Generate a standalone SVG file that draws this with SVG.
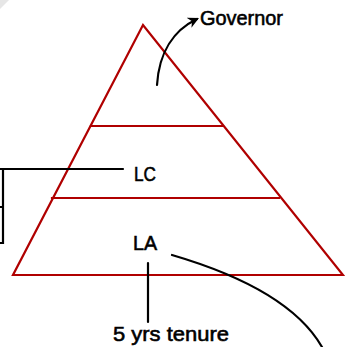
<svg xmlns="http://www.w3.org/2000/svg" width="345" height="347" viewBox="0 0 345 347">
  <defs>
    <style>
      .tier { fill: none; stroke: #b00000; stroke-width: 2.2; stroke-linejoin: miter; stroke-linecap: square; }
      .conn { fill: none; stroke: #000; stroke-width: 2.2; stroke-linecap: round; }
      .lbl { font-family: "Liberation Sans", "DejaVu Sans", sans-serif; font-size: 21px; fill: #000; stroke: #000; stroke-width: 0.6; }
    </style>
    <marker id="arrow" viewBox="0 0 10 10" refX="8" refY="5" markerWidth="5" markerHeight="5" orient="auto" markerUnits="strokeWidth">
      <path d="M0,0 L10,5 L0,10 L3,5 Z" fill="#000"/>
    </marker>
  </defs>
  <rect x="0" y="0" width="345" height="347" fill="#fff"/>
  <polygon points="0,0 9,0 0,9" fill="#e6e6e6"/>

  <g id="pyramid">
    <polygon class="tier" points="143,25 13,275 343,275"/>
    <line class="tier" x1="91" y1="126" x2="223" y2="126"/>
    <line class="tier" x1="52" y1="198" x2="279" y2="198"/>
  </g>

  <g id="connectors">
    <path class="conn" d="M157,85 C159,52 174,30 197,19" marker-end="url(#arrow)"/>
    <line class="conn" x1="0" y1="169" x2="123" y2="169" stroke-linecap="butt"/>
    <path class="conn" d="M0,169 H3 V243 H0 M0,207 H3" stroke-linecap="butt" stroke-linejoin="miter"/>
    <line class="conn" x1="148" y1="263" x2="148" y2="322"/>
    <path class="conn" d="M172,255 C230,272 295,300 322,347"/>
  </g>

  <g id="governor">
    <text class="lbl" x="200" y="25" font-size="23" textLength="83" lengthAdjust="spacingAndGlyphs">Governor</text>
  </g>
  <g id="lc">
    <text class="lbl" x="134" y="181" font-size="22" textLength="22" lengthAdjust="spacingAndGlyphs">LC</text>
  </g>
  <g id="la">
    <text class="lbl" x="133" y="250" font-size="23" textLength="24" lengthAdjust="spacingAndGlyphs">LA</text>
  </g>
  <g id="tenure">
    <text class="lbl" x="113" y="341" font-size="21" textLength="116" lengthAdjust="spacingAndGlyphs">5 yrs tenure</text>
  </g>
</svg>
